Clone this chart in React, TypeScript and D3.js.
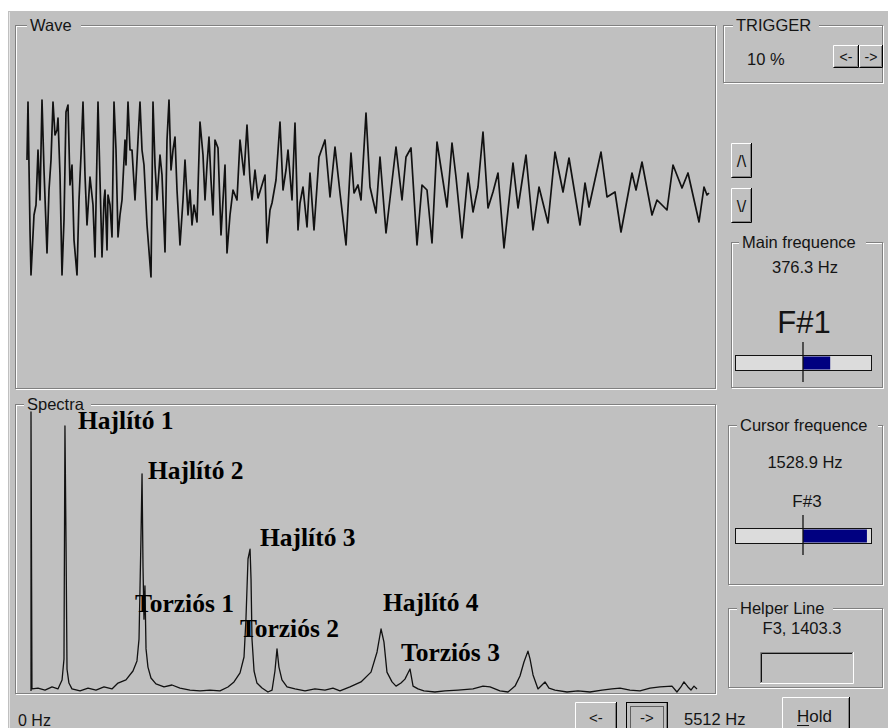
import React from "react";
import * as d3 from "d3";

// Wave trace: time in samples, level in ADC counts (positive = up)
const waveTime = [
  0, 1, 3, 4, 7, 9, 11, 13, 15, 17, 20, 22, 24, 26, 28, 30, 31, 33, 35, 37, 39, 41, 43, 45, 47, 50,
  52, 54, 56, 58, 60, 63, 66, 68, 71, 73, 75, 77, 78, 80, 81, 83, 85, 87, 89, 91, 93, 95, 98, 99,
  101, 103, 105, 108, 111, 113, 115, 117, 120, 124, 126, 128, 130, 133, 135, 138, 140, 142, 144, 146,
  148, 150, 153, 156, 158, 161, 163, 165, 167, 170, 173, 176, 178, 180, 182, 184, 186, 188, 191, 194,
  196, 198, 200, 203, 206, 210, 213, 217, 220, 223, 225, 228, 231, 235, 238, 240, 243, 245, 249, 253,
  256, 259, 261, 265, 268, 271, 273, 276, 280, 283, 287, 292, 298, 303, 308, 313, 319, 324, 327, 331,
  334, 339, 343, 349, 353, 359, 369, 375, 379, 384, 390, 395, 400, 405, 410, 420, 425, 429, 435, 441,
  446, 451, 456, 461, 466, 471, 477, 486, 491, 499, 506, 512, 521, 528, 536, 542, 553, 558, 562, 574,
  580, 588, 594, 605, 609, 615, 625, 630, 635, 640, 646, 655, 661, 672, 677, 680, 682,
];
const waveLevel = [
  30, 88, -40, -85, -25, -15, 40, -10, 90, 20, -63, 0, 30, 88, 55, 60, 72, 15, -85, -30, 78, 85, 5, 25, -50, -85,
  -10, 35, 88, 15, -35, 13, -15, -67, 88, 10, -67, -10, 0, -60, -5, -15, -47, 88, 40, -47, -25, -10, 50, 25,
  88, 40, 40, -10, 50, 88, 40, 25, -35, -87, 88, 25, -10, 35, 15, -62, 50, 90, 20, 40,
  53, 0, -55, -10, 30, -25, 0, -35, -15, -32, 68, 35, -10, 25, 53, 10, -25, 50, 42, -45,
  -10, 25, -63, -25, 0, -10, 50, 15, 65, 10, -10, 20, -8, 5, 15, -53, -20, -13, 10, 68,
  0, 20, 40, -10, 67, -40, -13, 3, -37, 17, -40, 33, 50, -7, 43, -3, -55, 37, -3, 5,
  -10, 77, 3, -23, 33, -43, 43, -10, 33, 42, -55, 5, 0, -53, 48, -17, 47, 13, -48, 17,
  -22, 3, 58, -18, -2, 17, -58, 27, -18, 35, -40, 3, -33, 38, -2, 32, -35, 7, -17, 38,
  -7, -2, -42, 17, 0, 28, -25, -10, -15, -20, 25, 2, 17, -32, 3, -5, -3,
];

// Spectrum trace: frequency (Hz) and relative amplitude (% of full scale)
const specHz = [
  0, 0, 8, 58, 116, 174, 223, 257, 273, 281, 290, 298, 314, 339, 406, 472, 538, 604, 670, 720,
  786, 844, 877, 894, 902, 910, 919, 927, 935, 943, 952, 968, 993, 1034, 1101, 1167, 1233, 1316, 1399, 1481,
  1564, 1630, 1680, 1730, 1763, 1779, 1796, 1813, 1821, 1829, 1846, 1870, 1912, 1961, 1995, 2019, 2036, 2052, 2077, 2119,
  2185, 2268, 2350, 2433, 2499, 2557, 2640, 2731, 2814, 2864, 2897, 2921, 2946, 2988, 3021, 3062, 3095, 3120, 3137, 3162,
  3203, 3252, 3343, 3426, 3534, 3658, 3741, 3799, 3881, 3948, 4006, 4047, 4080, 4113, 4130, 4155, 4196, 4229, 4254, 4287,
  4337, 4436, 4527, 4626, 4726, 4808, 4875, 4957, 5040, 5123, 5206, 5305, 5346, 5379, 5404, 5437, 5462, 5487, 5512,
];
const specAmp = [
  0.4, 100, 1.1, 1.4, 0.7, 1.8, 1.1, 4.3, 11.8, 95, 52.9, 8.2, 3.2, 1.1, 0.4, 1.4, 0.7, 1.8, 1.1, 3.2,
  4.3, 7.5, 11.1, 18.9, 36.8, 54.6, 77.9, 44.6, 26, 37.9, 15.4, 8.9, 5, 2.9, 1.8, 2.5, 1.4, 0.7, 0.4, 0.7,
  0.4, 1.8, 3.6, 6.8, 12.5, 26, 47.5, 51, 40.4, 18.9, 7.5, 3.2, 1.4, 0, 0.7, 7.5, 15.4, 8.9, 4.3, 1.8,
  1.1, 0.4, 1.1, 0.7, 1.4, 0.4, 1.8, 3.6, 7.1, 14.3, 22.5, 17.9, 7.1, 3.6, 2.1, 3.2, 4.6, 6.8, 8.2, 2.1,
  1.1, 0.4, 0, 0.4, 0.7, 1.1, 2.1, 1.8, 0.4, 0, 2.1, 5.7, 10.7, 14.6, 11.8, 6.1, 1.1, 2.5, 3.6, 1.4,
  0.7, 0, 0.4, 0, 0.7, 1.1, 1.4, 0.7, 0.4, 1.4, 1.8, 2.1, 0, 1.8, 3.6, 1.8, 0.7, 2.1, 1.1,
];

// Mode annotations placed in the spectrum's own coordinates
const modeNames = ["Hajlító 1", "Hajlító 2", "Hajlító 3", "Torziós 1", "Torziós 2", "Hajlító 4", "Torziós 3"];
const modeLabelHz = [389, 968, 1895, 861, 1730, 2913, 3062];
const modeLabelAmp = [93.9, 76.1, 52.1, 28.6, 19.6, 28.9, 11.1];

// Readouts
const triggerText = "10 %";
const mainFreqText = "376.3 Hz";
const mainNote = "F#1";
const mainCents = 20;
const cursorFreqText = "1528.9 Hz";
const cursorNote = "F#3";
const cursorCents = 47;
const helperText = "F3, 1403.3";
const freqMinText = "0 Hz";
const freqMaxText = "5512 Hz";

const BG = "#c0c0c0";
const UI = "'Liberation Sans', Arial, sans-serif";
const INK = "#141414";

function Etched({ x, y, w, h }: { x: number; y: number; w: number; h: number }) {
  return (
    <g fill="none">
      <rect x={x + 1.5} y={y + 1.5} width={w - 1} height={h - 1} stroke="#fff" />
      <rect x={x + 0.5} y={y + 0.5} width={w - 1} height={h - 1} stroke="#808080" />
    </g>
  );
}

function GroupBox({ x, y, w, h, label, lx, lw }: any) {
  return (
    <g>
      <Etched x={x} y={y} w={w} h={h} />
      <rect x={lx - 3} y={y - 2} width={lw + 6} height={5} fill={BG} />
      <text x={lx} y={y + 6} fontFamily={UI} fontSize={16.5} fill={INK}>
        {label}
      </text>
    </g>
  );
}

function Button({ x, y, w, h, label, focus, fs = 15 }: any) {
  return (
    <g>
      <rect x={x} y={y} width={w} height={h} fill={BG} />
      <path d={`M${x + 0.5},${y + h - 1}V${y + 0.5}H${x + w - 1}`} stroke="#fff" fill="none" />
      <path d={`M${x + 0.5},${y + h - 0.5}H${x + w - 0.5}V${y}`} stroke="#000" fill="none" />
      <path d={`M${x + 1.5},${y + h - 1.5}H${x + w - 1.5}V${y + 1}`} stroke="#808080" fill="none" />
      {focus && (
        <>
          <rect x={x + 0.5} y={y + 0.5} width={w - 1} height={h - 1} fill="none" stroke="#000" />
          <rect x={x + 4.5} y={y + 4.5} width={w - 9} height={h - 9} fill="none" stroke="#000" strokeDasharray="1,1" />
        </>
      )}
      <text x={x + w / 2} y={y + h / 2 + fs * 0.36} textAnchor="middle" fontFamily={UI} fontSize={fs} fill={INK}>
        {label}
      </text>
    </g>
  );
}

function TuneBar({ y, cents }: { y: number; cents: number }) {
  const cx = d3.scaleLinear().domain([-50, 50]).range([735, 871]);
  const x0 = cx(0);
  const x1 = cx(cents);
  return (
    <g>
      <rect x={735.5} y={y + 0.5} width={136} height={15} fill="#dcdcdc" stroke="#111" />
      <rect x={Math.min(x0, x1)} y={y + 1.5} width={Math.abs(x1 - x0)} height={13} fill="#000080" />
      <line x1={x0} x2={x0} y1={y - 13} y2={y + 27} stroke="#111" strokeWidth={1.3} />
    </g>
  );
}

export default function App() {
  const waveX = d3.scaleLinear().domain([0, 682]).range([27, 709]);
  const waveY = d3.scaleLinear().domain([-100, 100]).range([290, 90]);
  const specX = d3.scaleLinear().domain([0, 5512]).range([31, 697]);
  const specY = d3.scaleLinear().domain([0, 100]).range([692, 412]);

  const wavePath = d3
    .line<number>()
    .x((_, i) => waveX(waveTime[i]))
    .y((v) => waveY(v))(waveLevel);
  const specPath = d3
    .line<number>()
    .x((_, i) => specX(specHz[i]))
    .y((v) => specY(v))(specAmp);

  return (
    <div style={{ position: "absolute", left: 0, top: 0 }}>
      <svg width={888} height={728} style={{ display: "block" }}>
        <rect width={888} height={728} fill="#fff" />
        <rect x={8} y={11} width={880} height={717} fill={BG} />
        <line x1={9.5} x2={9.5} y1={12} y2={728} stroke="#e6e6e6" />

        <GroupBox x={15} y={25} w={701} h={364} label="Wave" lx={30} lw={48} />
        <GroupBox x={15} y={404} w={701} h={290} label="Spectra" lx={27} lw={61} />

        <path d={wavePath || ""} fill="none" stroke="#111" strokeWidth={1.7} strokeLinejoin="round" />
        <path d={specPath || ""} fill="none" stroke="#111" strokeWidth={1.3} strokeLinejoin="round" />

        {modeNames.map((name, i) => (
          <text
            key={name}
            x={specX(modeLabelHz[i])}
            y={specY(modeLabelAmp[i])}
            fontFamily="'Liberation Serif', 'Times New Roman', serif"
            fontWeight="bold"
            fontSize={25.5}
            fill="#000"
          >
            {name}
          </text>
        ))}

        {/* frequency range footer */}
        <text x={18} y={726} fontFamily={UI} fontSize={16} fill={INK}>{freqMinText}</text>
        <Button x={575} y={702} w={42} h={32} label="<-" />
        <Button x={626} y={702} w={42} h={32} label="->" focus />
        <text x={684} y={725} fontFamily={UI} fontSize={16.5} fill={INK}>{freqMaxText}</text>
        <Button x={782} y={697} w={68} h={36} label="" fs={17} />
        <text x={797} y={722} fontFamily={UI} fontSize={17} fill={INK}>Hold</text>
        <line x1={797} x2={809} y1={725.5} y2={725.5} stroke={INK} />

        {/* trigger */}
        <GroupBox x={723} y={25} w={160} h={58} label="TRIGGER" lx={736} lw={80} />
        <text x={747} y={65} fontFamily={UI} fontSize={16.5} fill={INK}>{triggerText}</text>
        <Button x={833} y={45} w={26} h={23} label="<-" fs={14} />
        <Button x={859} y={45} w={24} h={23} label="->" fs={14} />

        {/* level buttons */}
        <Button x={731} y={143} w={21} h={35} label="/\" fs={17} />
        <Button x={731} y={188} w={21} h={35} label="\/" fs={17} />

        {/* main frequency */}
        <GroupBox x={731} y={242} w={152} h={146} label="Main frequence" lx={742} lw={121} />
        <text x={805} y={273} textAnchor="middle" fontFamily={UI} fontSize={16.5} fill={INK}>{mainFreqText}</text>
        <text x={804} y={333} textAnchor="middle" fontFamily={UI} fontSize={31} fill={INK}>{mainNote}</text>
        <TuneBar y={355} cents={mainCents} />

        {/* cursor frequency */}
        <GroupBox x={728} y={425} w={155} h={160} label="Cursor frequence" lx={740} lw={135} />
        <text x={805} y={468} textAnchor="middle" fontFamily={UI} fontSize={16.5} fill={INK}>{cursorFreqText}</text>
        <text x={807} y={507} textAnchor="middle" fontFamily={UI} fontSize={17} fill={INK}>{cursorNote}</text>
        <TuneBar y={528} cents={cursorCents} />

        {/* helper line */}
        <GroupBox x={728} y={608} w={155} h={80} label="Helper Line" lx={740} lw={90} />
        <text x={802} y={634} textAnchor="middle" fontFamily={UI} fontSize={16.5} fill={INK}>{helperText}</text>
        <rect x={760} y={652} width={93} height={31} fill={BG} />
        <path d="M760.5,683V652.5H853" stroke="#808080" fill="none" />
        <path d="M761.5,682V653.5H852" stroke="#111" fill="none" />
        <path d="M760,683.5H853.5V652" stroke="#fff" fill="none" />
      </svg>
    </div>
  );
}
